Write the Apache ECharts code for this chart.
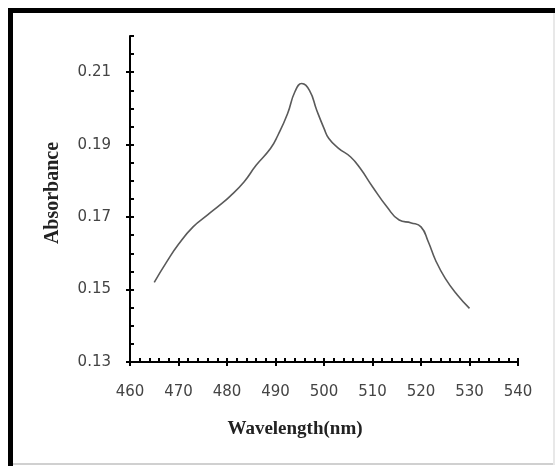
<!DOCTYPE html>
<html>
<head>
<meta charset="utf-8">
<script src="https://cdn.jsdelivr.net/npm/echarts@6/dist/echarts.min.js"></script>
<style>
  html, body { margin: 0; padding: 0; background: #fff; }
  #main { width: 555px; height: 466px; }
</style>
</head>
<body>
<div id="main"></div>
<script>
// wavelength (nm) and absorbance
var wavelength = [465, 467.5, 470, 473, 476, 478.5, 480.5, 483.5, 486, 489, 490.5, 492.5, 494, 495.4, 497, 498.5,
	500, 501, 503, 505.5, 507.5, 510, 513, 515.5, 518, 520, 521.5, 523, 525, 527.5, 530];
var absorbance = [0.152, 0.1575, 0.1625, 0.1673, 0.1706, 0.1733, 0.1756, 0.1797, 0.1843, 0.189, 0.1926, 0.1986, 0.2046, 0.2069, 0.205, 0.1995,
	0.1945, 0.1917, 0.189, 0.1866, 0.1834, 0.1784, 0.1728, 0.1692, 0.1684, 0.1673, 0.1632, 0.1581, 0.1531, 0.1485, 0.1448];
var yLabels = [0.13, 0.15, 0.17, 0.19, 0.21];

window.onload = function () {
	var myChart = echarts.init(document.getElementById('main'));
	var pts = [];
	for (var i = 0; i < wavelength.length; i++) pts.push([wavelength[i], absorbance[i]]);

	var labelFont = { color: '#444', fontFamily: 'DejaVu Sans', fontSize: 15 };
	var titleFont = { color: '#222', fontFamily: 'Liberation Serif', fontWeight: 'bold' };
	var axisLine = { show: true, lineStyle: { color: '#000', width: 2 } };

	var option = {
		backgroundColor: '#fff',
		animation: false,
		grid: { left: 130, right: 37, top: 36, bottom: 104 },
		xAxis: [{
			type: 'value',
			position: 'bottom',
			min: 460, max: 540, interval: 10,
			name: 'Wavelength(nm)',
			nameLocation: 'middle',
			nameGap: 58,
			nameTextStyle: Object.assign({ fontSize: 19, padding: [0, 58, 0, 0] }, titleFont),
			axisLine: axisLine,
			axisTick: { show: true, inside: false, length: 4, lineStyle: { color: '#000', width: 2 } },
			axisLabel: Object.assign({ margin: 23 }, labelFont),
			splitLine: { show: false }
		}, {
			type: 'value',
			position: 'bottom',
			min: 460, max: 540, interval: 2,
			axisLine: { show: false },
			axisTick: { show: true, inside: true, length: 4, lineStyle: { color: '#000', width: 2 } },
			axisLabel: { show: false },
			splitLine: { show: false }
		}],
		yAxis: [{
			type: 'value',
			position: 'left',
			min: 0.13, max: 0.22,
			name: 'Absorbance',
			nameLocation: 'middle',
			nameGap: 67,
			nameTextStyle: Object.assign({ fontSize: 20, padding: [0, 0, 0, 12] }, titleFont),
			axisLine: axisLine,
			axisTick: { show: true, inside: false, length: 4, customValues: yLabels, lineStyle: { color: '#000', width: 2 } },
			axisLabel: Object.assign({
				margin: 19,
				customValues: yLabels,
				formatter: function (v) { return v.toFixed(2); }
			}, labelFont),
			splitLine: { show: false }
		}, {
			type: 'value',
			position: 'left',
			min: 0.13, max: 0.22, interval: 0.005,
			axisLine: { show: false },
			axisTick: { show: true, inside: true, length: 4, lineStyle: { color: '#000', width: 2 } },
			axisLabel: { show: false },
			splitLine: { show: false }
		}],
		graphic: [
			{ type: 'rect', shape: { x: 8, y: 8, width: 560, height: 5 }, style: { fill: '#000' } },
			{ type: 'rect', shape: { x: 8, y: 8, width: 5, height: 470 }, style: { fill: '#000' } },
			{ type: 'rect', shape: { x: 13, y: 463, width: 545, height: 2 }, style: { fill: '#d0d0d0' } },
			{ type: 'rect', shape: { x: 553, y: 13, width: 2, height: 452 }, style: { fill: '#e8e8e8' } }
		],
		series: [{
			type: 'line',
			data: pts,
			smooth: 0.5,
			symbol: 'none',
			lineStyle: { color: '#5a5a5a', width: 1.6 }
		}]
	};
	myChart.setOption(option);
};
</script>
</body>
</html>
